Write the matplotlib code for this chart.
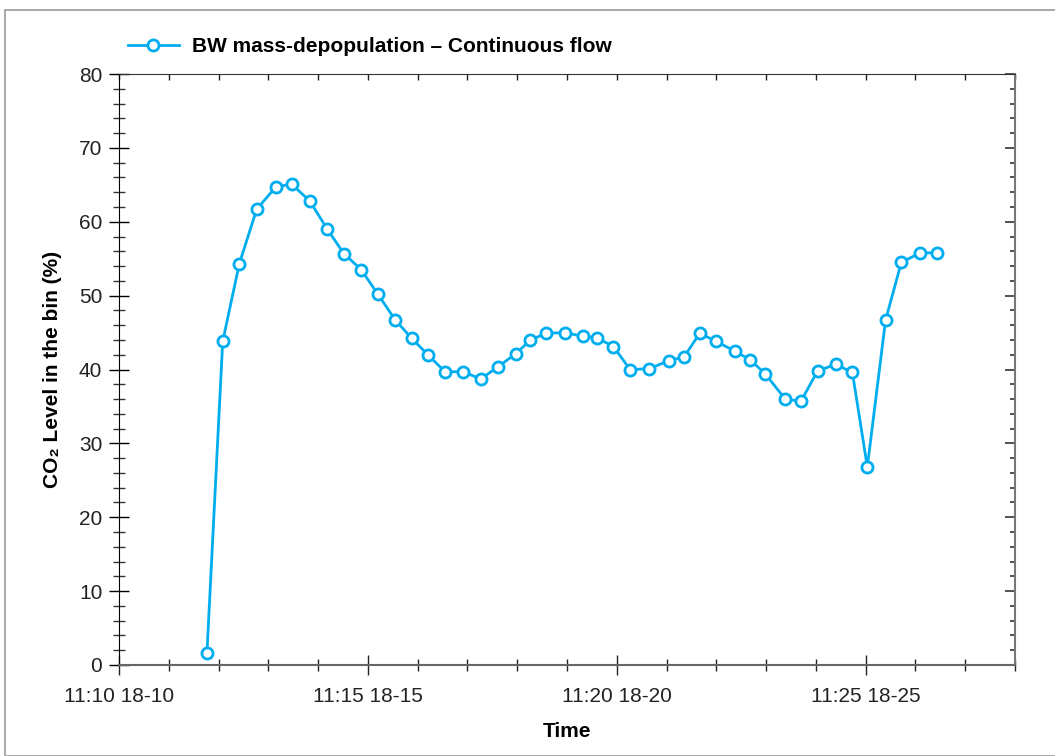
import matplotlib
matplotlib.use("Agg")
import matplotlib.pyplot as plt
from matplotlib.patches import Rectangle

plt.rcParams['font.family'] = ['Liberation Sans', 'DejaVu Sans']

# seconds after the first (11:10) tick
t_sec = [106, 125, 145, 166, 189, 208, 230, 251, 271, 292, 312, 333, 353, 373,
         393, 415, 436, 457, 478, 496, 515, 537, 559, 576, 596, 616, 639, 663,
         681, 700, 720, 742, 761, 779, 803, 822, 842, 864, 884, 902, 924, 943,
         966, 986]
co2 = [1.6, 43.8, 54.3, 61.7, 64.7, 65.1, 62.8, 59.0, 55.7, 53.5, 50.2, 46.7,
       44.2, 41.9, 39.7, 39.7, 38.7, 40.4, 42.1, 44.0, 44.9, 45.0, 44.5, 44.3,
       43.1, 40.0, 40.1, 41.2, 41.7, 44.9, 43.8, 42.5, 41.3, 39.4, 36.0, 35.7,
       39.8, 40.7, 39.6, 26.8, 46.7, 54.5, 55.8, 55.8]
tick_pos = [0, 5, 10, 15]
tick_labels = ['11:10 18-10', '11:15 18-15', '11:20 18-20', '11:25 18-25']
series_name = 'BW mass-depopulation \u2013 Continuous flow'

color = '#00AEEF'
t_min = [s / 60 for s in t_sec]

fig = plt.figure(figsize=(10.55, 7.56), dpi=100)
fig.patches.append(Rectangle((5 / 1055, 0), 1.0, 1 - 10 / 756, transform=fig.transFigure,
                             fill=False, edgecolor='#999999', linewidth=1.2))
ax = fig.add_axes([119 / 1055, 1 - 665 / 756, (1015 - 119) / 1055, (665 - 74) / 756])

ax.plot(t_min, co2, color=color, linewidth=2, marker='o', markersize=8,
        markerfacecolor='white', markeredgecolor=color, markeredgewidth=2,
        label=series_name, clip_on=False, zorder=3)

ax.set_xlim(0, 18)
ax.set_ylim(0, 80)
ax.set_xticks(tick_pos)
ax.set_xticklabels(tick_labels)
ax.set_xticks(range(0, 19), minor=True)
ax.set_yticks(range(0, 81, 10))
ax.set_yticks(range(0, 81, 2), minor=True)

ax.tick_params(axis='both', which='major', labelsize=15, labelcolor='#222222')
ax.tick_params(axis='y', which='major', direction='inout', length=14, width=1, color='black', pad=5)
ax.tick_params(axis='y', which='minor', direction='inout', length=8.6, width=1, color='#333333')
ax.tick_params(axis='x', which='major', direction='inout', length=15, width=1, color='#222222', pad=8)
ax.tick_params(axis='x', which='minor', direction='inout', length=8.6, width=1, color='#222222')

ax.spines['left'].set_color('black')
ax.spines['bottom'].set_color('#666666')
ax.spines['bottom'].set_linewidth(1.5)
ax.spines['right'].set_color('#777777')
ax.spines['right'].set_linewidth(1.5)
ax.spines['top'].set_color('#333333')

top = ax.secondary_xaxis('top')
top.set_xticks(range(0, 19))
top.tick_params(direction='in', length=4, width=1, labeltop=False, color='#222222')
top.spines['top'].set_visible(False)
right = ax.secondary_yaxis('right')
right.set_yticks(range(0, 81, 10))
right.set_yticks(range(0, 81, 2), minor=True)
right.tick_params(which='major', direction='in', length=7, width=1.2, labelright=False, color='#333333')
right.tick_params(which='minor', direction='in', length=3.6, width=1.2, color='#333333')
right.spines['right'].set_visible(False)

ax.set_xlabel('Time', fontsize=15, fontweight='bold', labelpad=12)
ax.set_ylabel('CO\u2082 Level in the bin (%)', fontsize=15, fontweight='bold', labelpad=12)

ax.legend(loc='center left', bbox_to_anchor=(109 / 1055, 1 - 47 / 756),
          bbox_transform=fig.transFigure, frameon=False, handlelength=2.45,
          handletextpad=0.65, prop={'size': 15, 'weight': 'bold'})

fig.savefig('out.png', dpi=100)
